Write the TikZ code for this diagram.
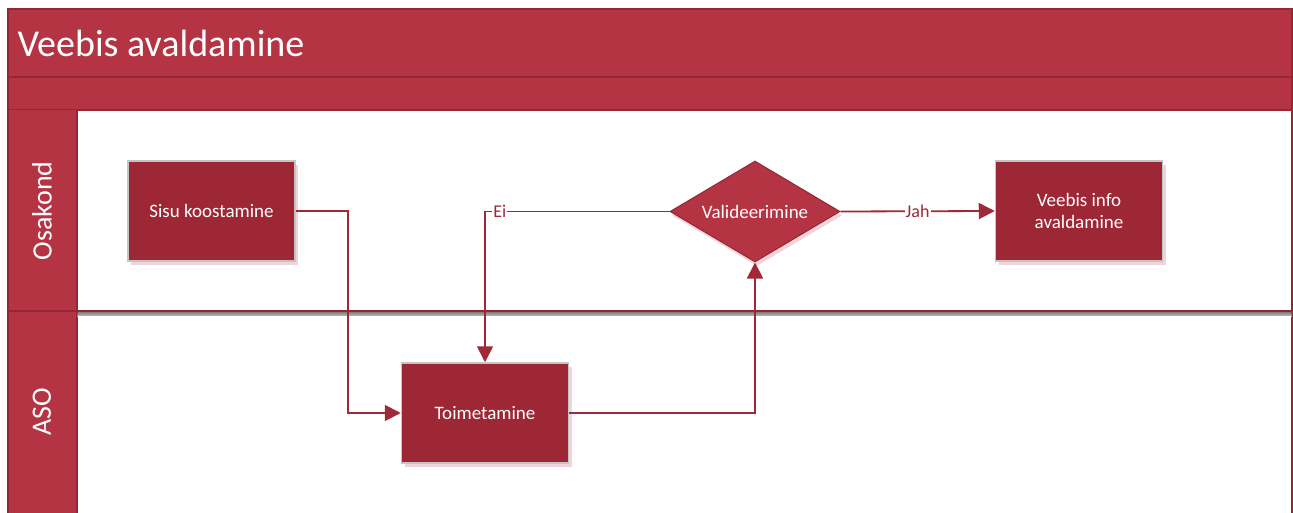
\documentclass[tikz,border=0pt]{standalone}
\usepackage{fontspec}
\setmainfont{Carlito}
\usetikzlibrary{shapes.geometric,arrows.meta,shadows}
\definecolor{band}{HTML}{B43444}
\definecolor{bandline}{HTML}{962634}
\definecolor{boxfill}{HTML}{9E2736}
\definecolor{flow}{HTML}{A02838}
\definecolor{boxedge}{HTML}{C4C4C4}
\definecolor{shade}{HTML}{E8B8C0}
\begin{document}
\begin{tikzpicture}[x=1pt,y=-1pt,
  proc/.style={rectangle, fill=boxfill, draw=boxedge, line width=1.5pt, text=white,
    font=\fontsize{19}{22}\selectfont, align=center, minimum width=167pt, minimum height=100pt,
    inner sep=2pt, drop shadow={shadow xshift=3pt, shadow yshift=-4pt, fill=shade, opacity=0.6}},
  decision/.style={diamond, shape aspect=1.68, fill=band, draw=bandline, line width=1pt, text=white,
    font=\fontsize{19}{22}\selectfont, minimum width=170pt, minimum height=101pt, inner sep=0pt,
    drop shadow={shadow xshift=2pt, shadow yshift=-4pt, fill=shade, opacity=0.6}},
  flowline/.style={draw=flow, line width=1.8pt, -{Triangle[length=16pt,width=16pt]}},
  flowlabel/.style={fill=white, text=flow, inner sep=1pt, font=\fontsize{18}{20}\selectfont},
  lanetext/.style={text=white, rotate=90, font=\fontsize{28}{32}\selectfont},
  title/.style={text=white, anchor=west, font=\fontsize{38}{42}\selectfont}]
\useasboundingbox (0,0) rectangle (1293,513);
\fill[white] (0,0) rectangle (1293,513);
% pool
\fill[band] (8,9) rectangle (1292,110);
\draw[bandline, line width=1.2pt] (8,9) rectangle (1292,110);
\draw[bandline, line width=1.2pt] (8,77) -- (1292,77);
\fill[band] (8,110) rectangle (77,513);
\draw[bandline, line width=1.2pt] (8,110) -- (8,513);
\draw[bandline, line width=1.2pt] (77,110) -- (77,513);
\draw[bandline, line width=1.2pt] (1292,110) -- (1292,513);
\fill[shade, opacity=0.5] (77,312) rectangle (1292,316);
\draw[bandline, line width=1.8pt] (8,311) -- (1292,311);
\node[title] (ttl) at (14,43) {Veebis avaldamine};
\node[lanetext] (l1) at (42,211) {Osakond};
\node[lanetext] (l2) at (42,412) {ASO};
% nodes
\node[proc] (sisu) at (211.5,211) {Sisu koostamine};
\node[proc] (toim) at (485,413) {Toimetamine};
\node[decision] (val) at (755,211.5) {Valideerimine};
\node[proc] (veeb) at (1079,211) {Veebis info\\avaldamine};
% connectors
\draw[flowline] (sisu.east) -- ++(52,0) |- (toim.west);
\draw[flowline] (toim.east) -| (val.south);
\draw[flowline] (val.west) -| node[flowlabel, pos=0.46] {Ei} (toim.north);
\draw[flowline] (val.east) -- node[flowlabel, pos=0.5] {Jah} (veeb.west);
\end{tikzpicture}
\end{document}
